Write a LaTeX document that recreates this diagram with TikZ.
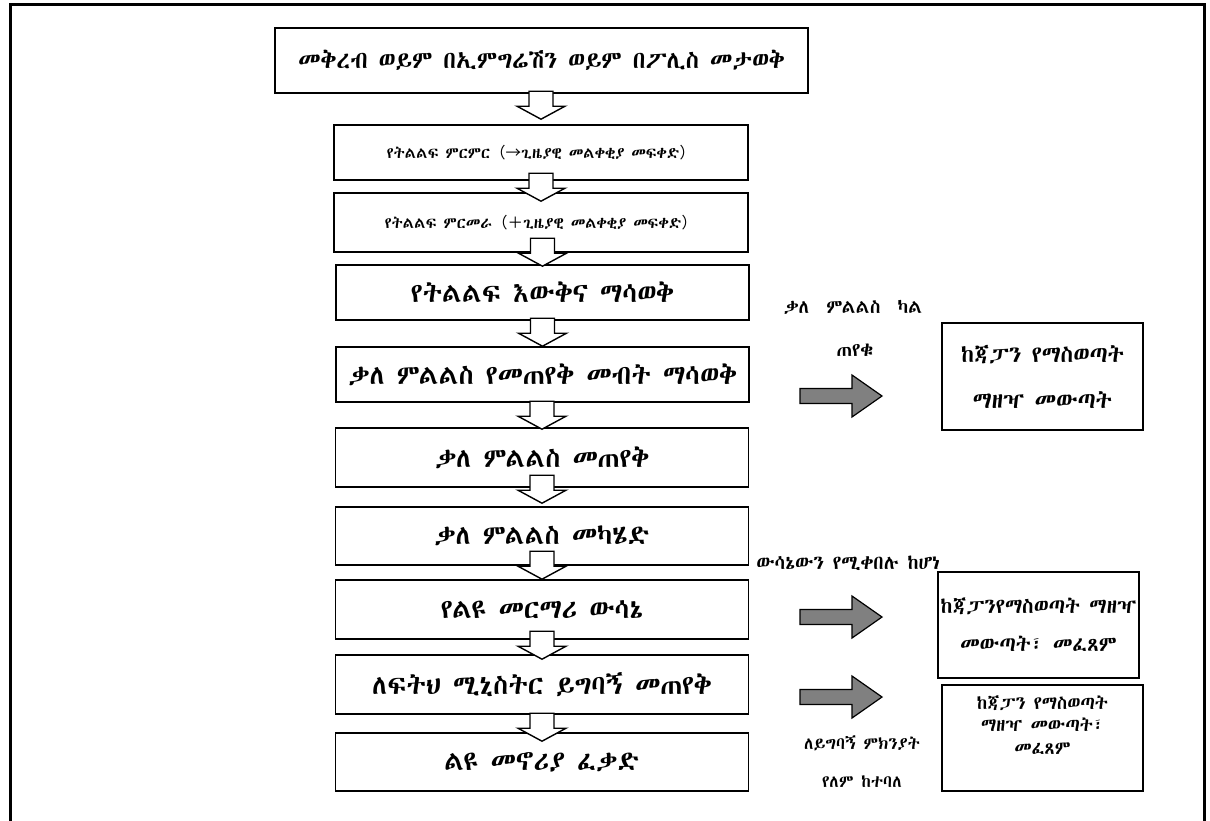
\documentclass[tikz,border=0pt]{standalone}
\usepackage{fontspec}
\usetikzlibrary{calc}
\IfFontExistsTF{Abyssinica SIL}{\newfontfamily\eth{Abyssinica SIL}}{%
 \IfFontExistsTF{Noto Sans Ethiopic}{\newfontfamily\eth{Noto Sans Ethiopic}}{%
  \IfFontExistsTF{FreeSerif}{\newfontfamily\eth{FreeSerif}}{\newfontfamily\eth{DejaVu Sans}}}}
\newfontfamily\cjk{Noto Sans CJK SC}
\tikzset{
  box/.style={draw, line width=1.6pt, inner sep=0pt, align=center, minimum width=413, minimum height=55},
  bigtxt/.style={font=\eth\fontsize{27}{31}\selectfont},
  smalltxt/.style={font=\eth\fontsize{15.5}{18}\selectfont},
  lbl/.style={inner sep=0pt, align=center},
  whitearr/.style={draw=black, fill=white, line width=1.4pt, line join=miter},
  grayarr/.style={draw=black, fill=black!50, line width=1.2pt, line join=miter},
  frame/.style={line width=3pt}
}
\newcommand{\dnarrow}[2]{%
  \coordinate (tip#1) at ($(#1.north)+(0,#2)$);
  \draw[whitearr, shift={(tip#1)}] (0,0) -- (-24,-13) -- (-12,-13) -- (-12,-28) -- (12,-28) -- (12,-13) -- (24,-13) -- cycle;}
\newcommand{\rtarrow}[1]{%
  \draw[grayarr, shift={(#1)}] (0,-7.5) -- (52,-7.5) -- (52,-21) -- (82,0) -- (52,21) -- (52,7.5) -- (0,7.5) -- cycle;}
\begin{document}
\begin{tikzpicture}[x=1pt,y=-1pt]
\useasboundingbox (0,0) rectangle (1210,820);
\draw[frame] (10,822) -- (10,4) -- (1204,4) -- (1204,822);

% main column
\node[box, font=\eth\fontsize{24}{28}\selectfont, minimum width=533, minimum height=65] (b1) at (541.5,60.5) {መቅረብ ወይም በኢምግሬሽን ወይም በፖሊስ መታወቅ};
\node[box, smalltxt, minimum width=414] (b2) at (541,152.5) {የትልልፍ ምርምር{\cjk （→}ጊዜያዊ መልቀቂያ መፍቀድ{\cjk ）}};
\node[box, smalltxt, minimum width=414, minimum height=59] (b3) at (541,222.5) {የትልልፍ ምርመራ{\cjk （＋}ጊዜያዊ መልቀቂያ መፍቀድ{\cjk ）}};
\node[box, bigtxt] (b4) at (542.5,292.5) {የትልልፍ እውቅና ማሳወቅ};
\node[box, bigtxt] (b5) at (542.5,374.5) {ቃለ ምልልስ የመጠየቅ መብት ማሳወቅ};
\node[box, bigtxt, minimum height=59] (b6) at (542,457.5) {ቃለ ምልልስ መጠየቅ};
\node[box, bigtxt, minimum height=58] (b7) at (542,536) {ቃለ ምልልስ መካሄድ};
\node[box, bigtxt, minimum height=59] (b8) at (542,609.5) {የልዩ መርማሪ ውሳኔ};
\node[box, bigtxt, minimum height=59] (b9) at (542,684.5) {ለፍትህ ሚኒስትር ይግባኝ መጠየቅ};
\node[box, bigtxt, minimum height=58] (b10) at (542,762) {ልዩ መኖሪያ ፈቃድ};

% white down arrows
\dnarrow{b2}{-5}
\dnarrow{b3}{9}
\dnarrow{b4}{2}
\dnarrow{b5}{0}
\dnarrow{b6}{2}
\dnarrow{b7}{-3}
\dnarrow{b8}{0}
\dnarrow{b9}{5}
\dnarrow{b10}{9}

% right-hand results
\node[box, minimum width=201, minimum height=107, font=\eth\fontsize{23}{46}\selectfont] (r1) at (1042.5,376.5) {ከጃፓን የማስወጣት\\ማዘዣ መውጣት};
\node[box, minimum width=201, minimum height=106, font=\eth\fontsize{21}{38}\selectfont] (r2) at (1038.5,625) {ከጃፓንየማስወጣት ማዘዣ\\መውጣት፣ መፈጸም};
\node[box, minimum width=201, minimum height=106] (r3) at (1042.5,738) {};
\node[lbl, font=\eth\fontsize{18.5}{22.5}\selectfont] (r3t) at ($(r3.center)+(0,-13)$) {ከጃፓን የማስወጣት\\ማዘዣ መውጣት፣\\መፈጸም};

% condition labels
\node[lbl, font=\eth\fontsize{19}{23}\selectfont] (l1a) at (853,307) {ቃለ\ \ ምልልስ\ \ ካል};
\node[lbl, font=\eth\fontsize{19}{23}\selectfont] (l1b) at (855,350) {ጠየቁ};
\node[lbl, font=\eth\fontsize{19.5}{22}\selectfont] (l2) at (848,563) {ውሳኔውን የሚቀበሉ ከሆነ};
\node[lbl, font=\eth\fontsize{17}{19}\selectfont] (l3a) at (862,743) {ለይግባኝ ምክንያት};
\node[lbl, font=\eth\fontsize{17}{19}\selectfont] (l3b) at (862,782) {የለም ከተባለ};

% gray arrows
\coordinate (g1) at (800,396);
\coordinate (g2) at (800,617);
\coordinate (g3) at (800,697);
\rtarrow{g1}
\rtarrow{g2}
\rtarrow{g3}
\end{tikzpicture}
\end{document}
